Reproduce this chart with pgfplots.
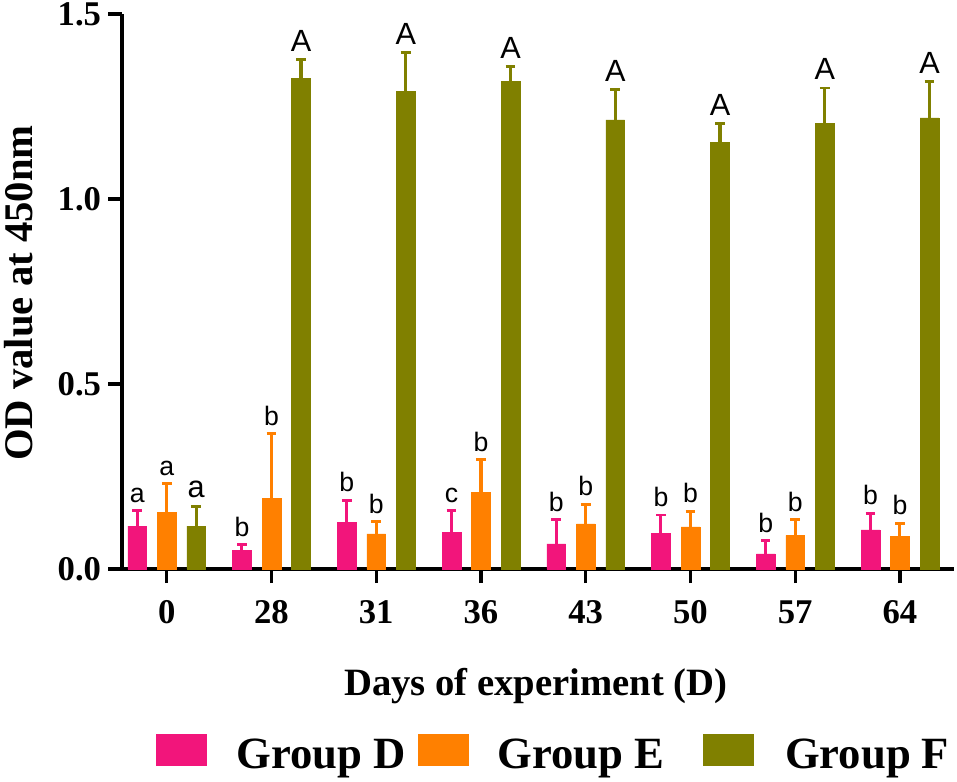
\documentclass[border=0pt]{standalone}
\usepackage{fontspec}
\setmainfont{Liberation Serif}
\newfontfamily\letterfont{Liberation Sans}
\usepackage{pgfplots}
\usepackage{pgfplotstable}
\pgfplotsset{compat=1.18}
\definecolor{gD}{RGB}{242,21,123}
\definecolor{gE}{RGB}{255,128,0}
\definecolor{gF}{RGB}{128,128,0}

\pgfplotstableread{
x val err lab
0 0.116 0.041 a
1 0.051 0.015 b
2 0.125 0.061 b
3 0.098 0.060 c
4 0.068 0.065 b
5 0.096 0.050 b
6 0.041 0.035 b
7 0.106 0.044 b
}\tabD
\pgfplotstableread{
x val err lab
0 0.153 0.078 a
1 0.191 0.174 b
2 0.095 0.033 b
3 0.207 0.088 b
4 0.122 0.053 b
5 0.114 0.042 b
6 0.091 0.042 b
7 0.089 0.034 b
}\tabE
\pgfplotstableread{
x val err lab
0 0.116 0.053 a
1 1.326 0.050 A
2 1.291 0.105 A
3 1.317 0.041 A
4 1.214 0.081 A
5 1.153 0.050 A
6 1.205 0.095 A
7 1.219 0.099 A
}\tabF

\begin{document}
\begin{tikzpicture}
\useasboundingbox (0,0) rectangle (717.75pt,586.5pt);
\begin{axis}[
  at={(91.5pt,159.75pt)}, anchor=south west,
  scale only axis, width=624pt, height=416.25pt,
  xmin=-0.427, xmax=7.516, ymin=0, ymax=1.5,
  clip=false,
  axis lines=left,
  axis line style={line width=2.5pt, -, black},
  bar width=14pt,
  xtick={0,1,2,3,4,5,6,7},
  xticklabels={0,28,31,36,43,50,57,64},
  ytick={0,0.5,1,1.5},
  yticklabels={0.0,0.5,1.0,1.5},
  minor tick num=0,
  tick align=outside,
  major tick length=10.5pt,
  tick style={line width=2.5pt, black},
  ticklabel style={font=\fontsize{26}{26}\selectfont\bfseries, inner sep=0pt},
  xticklabel style={yshift=-13pt},
  yticklabel style={xshift=-5pt},
  xlabel={Days of experiment (D)},
  ylabel={OD value at 450nm},
  xlabel style={at={(axis description cs:0.5,0)}, anchor=base, yshift=-94.5pt, xshift=-1.5pt, font=\fontsize{29}{30}\selectfont\bfseries, inner sep=0pt},
  ylabel style={at={(axis description cs:-0.107,0.497)}, anchor=base, font=\fontsize{30.5}{31}\selectfont\bfseries, inner sep=0pt},
  legend columns=3,
  legend style={at={(axis description cs:0.04087,-0.3305)}, anchor=west,
    draw=none, fill=none, inner sep=0pt,
    font=\fontsize{33.5}{36}\selectfont\bfseries,
    nodes={inner sep=0pt},
    /tikz/column 1/.style={column sep=22.5pt},
    /tikz/column 2/.style={column sep=9.2pt},
    /tikz/column 3/.style={column sep=21.75pt},
    /tikz/column 4/.style={column sep=28.5pt},
    /tikz/column 5/.style={column sep=24pt}},
  every node near coord/.style={font=\letterfont\fontsize{20}{20}\selectfont, text=black, inner sep=0pt, anchor=south, yshift=6pt},
]
% Group D
\addplot[ybar, bar shift=0pt, fill=gD, draw=gD, line width=0.4pt,
  legend image code/.code={\fill[gD] (0pt,-7.9pt) rectangle (37.5pt,15.35pt);},
  error bars/.cd, y dir=plus, y explicit,
  error bar style={line width=2.3pt, gD},
  error mark options={rotate=90, line width=2.2pt, mark size=3.6pt, gD}]
  table[x expr=\thisrow{x}-0.2818, y=val, y error=err] {\tabD};
\addlegendentry{Group D}
% Group E
\addplot[ybar, bar shift=0pt, fill=gE, draw=gE, line width=0.4pt,
  legend image code/.code={\fill[gE] (0pt,-7.9pt) rectangle (37.5pt,15.35pt);},
  error bars/.cd, y dir=plus, y explicit,
  error bar style={line width=2.3pt, gE},
  error mark options={rotate=90, line width=2.2pt, mark size=3.6pt, gE}]
  table[x=x, y=val, y error=err] {\tabE};
\addlegendentry{Group E}
% Group F
\addplot[ybar, bar shift=0pt, fill=gF, draw=gF, line width=0.4pt,
  legend image code/.code={\fill[gF] (0pt,-7.9pt) rectangle (37.5pt,15.35pt);},
  error bars/.cd, y dir=plus, y explicit,
  error bar style={line width=2.3pt, gF},
  error mark options={rotate=90, line width=2.2pt, mark size=3.6pt, gF}]
  table[x expr=\thisrow{x}+0.2818, y=val, y error=err] {\tabF};
\addlegendentry{Group F}
% significance letters
\addplot[ybar, bar shift=0pt, draw=none, fill=none, forget plot,
  nodes near coords, point meta=explicit symbolic]
  table[x expr=\thisrow{x}-0.2818, y expr=\thisrow{val}+\thisrow{err}, meta=lab] {\tabD};
\addplot[ybar, bar shift=0pt, draw=none, fill=none, forget plot,
  nodes near coords, point meta=explicit symbolic]
  table[x=x, y expr=\thisrow{val}+\thisrow{err}, meta=lab] {\tabE};
\addplot[ybar, bar shift=0pt, draw=none, fill=none, forget plot,
  nodes near coords, point meta=explicit symbolic,
  every node near coord/.append style={font=\letterfont\fontsize{23}{23}\selectfont}]
  table[x expr=\thisrow{x}+0.2818, y expr=\thisrow{val}+\thisrow{err}, meta=lab] {\tabF};
\end{axis}
\end{tikzpicture}
\end{document}
